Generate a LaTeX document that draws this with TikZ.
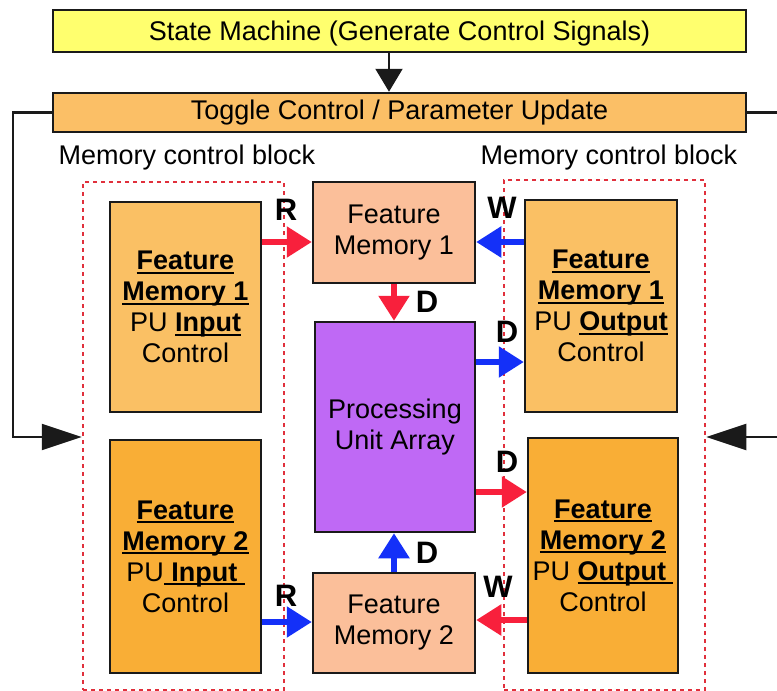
\documentclass[tikz,border=0pt]{standalone}
\usepackage{fontspec}
\setmainfont{Liberation Sans}
\usetikzlibrary{arrows.meta,calc}

\definecolor{smyellow}{HTML}{FFFF6E}
\definecolor{toggleorange}{HTML}{FBBF66}
\definecolor{lightorange}{HTML}{FAC064}
\definecolor{darkorange}{HTML}{F9AE36}
\definecolor{peach}{HTML}{FBBF9A}
\definecolor{puviolet}{HTML}{BF69F5}
\definecolor{rdarrow}{HTML}{F8203C}
\definecolor{blarrow}{HTML}{1430F8}
\definecolor{dotred}{HTML}{E0303C}
\definecolor{edge}{HTML}{1A1A1A}

% underline that sits just under the baseline, crossing descenders
\newsavebox{\ulbox}
\newcommand{\ulbar}[1]{\leavevmode\sbox{\ulbox}{#1}\rlap{\rule[-4pt]{\wd\ulbox}{2pt}}\usebox{\ulbox}}

\tikzset{
  box/.style={draw=edge, line width=2.5pt, rectangle, align=center, inner sep=0pt,
              font=\fontsize{27}{31}\selectfont},
  group/.style={draw=dotred, line width=2.5pt, dash pattern=on 4pt off 4pt},
  redarrow/.style={draw=rdarrow, line width=5.5pt,
                   -{Triangle[length=25pt,width=30pt]}},
  bluearrow/.style={draw=blarrow, line width=5.5pt,
                    -{Triangle[length=25pt,width=30pt]}},
  ctrlarrow/.style={draw=edge, line width=2.2pt, -{Triangle[length=40pt,width=26pt]}},
  sig/.style={font=\fontsize{31}{33}\selectfont\bfseries, inner sep=0pt},
  caption/.style={font=\fontsize{27}{31}\selectfont, inner sep=0pt}
}

\begin{document}
\begin{tikzpicture}[x=1pt, y=-1pt]
\useasboundingbox (0,0) rectangle (777,691);
\clip (0,0) rectangle (777,691);

% control chain at the top
\node[box, fill=smyellow, minimum width=693pt, minimum height=42pt, text depth=0pt] (sm) at (399.5,31)
  {State Machine (Generate Control Signals)};
\node[box, fill=toggleorange, minimum width=693pt, minimum height=39pt] (tog) at (399.5,112.5)
  {Toggle Control / Parameter Update};

% dotted memory control groups
\node[group, minimum width=201pt, minimum height=508pt, inner sep=0pt] (lgrp) at (183.5,436) {};
\node[group, minimum width=201pt, minimum height=510pt, inner sep=0pt] (rgrp) at (604.5,435) {};
\node[caption] (lcap) at (187,158) {Memory control block};
\node[caption] (rcap) at (609,158) {Memory control block};

% input controllers
\node[box, fill=lightorange, minimum width=151pt, minimum height=210pt] (fmin1) at (185.5,307)
  {\textbf{\ulbar{Feature}}\\\textbf{\ulbar{Memory 1}}\\PU \textbf{\ulbar{Input}}\\Control};
\node[box, fill=darkorange, minimum width=151pt, minimum height=233pt] (fmin2) at (185.5,556.5)
  {\textbf{\ulbar{Feature}}\\\textbf{\ulbar{Memory 2}}\\PU\textbf{\ulbar{\ Input\ }}\\Control};

% output controllers
\node[box, fill=lightorange, minimum width=152pt, minimum height=212pt] (fmout1) at (601,306)
  {\textbf{\ulbar{Feature}}\\\textbf{\ulbar{Memory 1}}\\PU \textbf{\ulbar{Output}}\\Control};
\node[box, fill=darkorange, minimum width=150pt, minimum height=235pt] (fmout2) at (603,555.5)
  {\textbf{\ulbar{Feature}}\\\textbf{\ulbar{Memory 2}}\\PU \textbf{\ulbar{Output\ }}\\Control};

% memories and processing array
\node[box, fill=peach, minimum width=162pt, minimum height=101pt] (mem1) at (394,232.5)
  {Feature\\Memory 1};
\node[box, fill=puviolet, minimum width=160pt, minimum height=210pt] (pu) at (395,427)
  {Processing\\Unit Array};
\node[box, fill=peach, minimum width=162pt, minimum height=100pt] (mem2) at (394,623)
  {Feature\\Memory 2};

% helper coordinates for the signal rows and columns
\coordinate (colsm) at (389,0);
\coordinate (colmem) at (394,0);
\coordinate (rowtop) at (0,242);
\coordinate (rowd1) at (0,362);
\coordinate (rowd2) at (0,492);
\coordinate (rowbot) at (0,622);
\coordinate (rowbotw) at (0,620);
\coordinate (rowctl) at (0,437);
\coordinate (lrail) at (13,112.5);
\coordinate (rrail) at (800,112.5);

% control connections
\draw[draw=edge, line width=2.2pt, -{Triangle[length=23pt,width=27pt]}]
  (sm.south -| colsm) -- (tog.north -| colsm);
\draw[ctrlarrow] (tog.west) -- (lrail) -- (lrail |- rowctl) -- (lgrp.west |- rowctl);
\draw[ctrlarrow] (tog.east) -- (rrail) -- (rrail |- rowctl) -- (rgrp.east |- rowctl);

% data paths
\draw[redarrow] (fmin1.east |- rowtop) -- (mem1.west |- rowtop);
\draw[bluearrow] (fmout1.west |- rowtop) -- (mem1.east |- rowtop);
\draw[redarrow] (mem1.south -| colmem) -- (pu.north -| colmem);
\draw[bluearrow] (pu.east |- rowd1) -- (fmout1.west |- rowd1);
\draw[redarrow] (pu.east |- rowd2) -- (fmout2.west |- rowd2);
\draw[bluearrow] (mem2.north -| colmem) -- (pu.south -| colmem);
\draw[bluearrow] (fmin2.east |- rowbot) -- (mem2.west |- rowbot);
\draw[redarrow] (fmout2.west |- rowbotw) -- (mem2.east |- rowbotw);

% signal letters
\node[sig] (lr1) at (286,210) {R};
\node[sig] (lw1) at (502,208) {W};
\node[sig] (ld1) at (427,302) {D};
\node[sig] (ld2) at (507,332) {D};
\node[sig] (ld3) at (507,462) {D};
\node[sig] (ld4) at (427,553) {D};
\node[sig] (lr2) at (286,596) {R};
\node[sig] (lw2) at (498,587) {W};
\end{tikzpicture}
\end{document}
